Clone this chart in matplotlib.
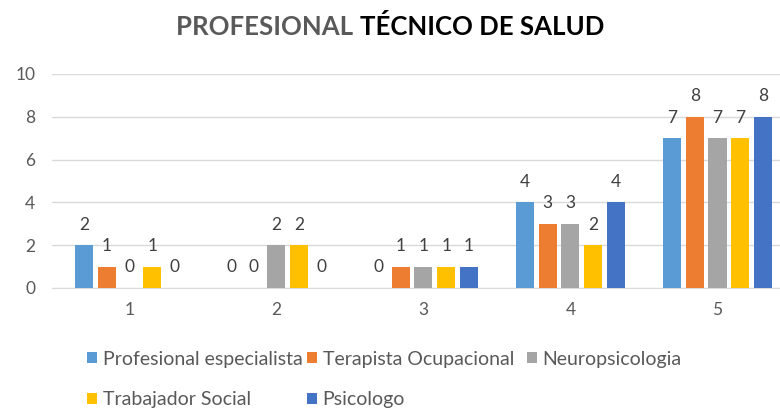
import matplotlib
matplotlib.use("Agg")
import matplotlib.pyplot as plt
import numpy as np
from matplotlib.patches import Patch

categories = ["1", "2", "3", "4", "5"]
series_names = ["Profesional especialista", "Terapista Ocupacional", "Neuropsicologia",
                "Trabajador Social", "Psicologo"]
prof_especialista = [2, 0, 0, 4, 7]
terapista = [1, 0, 1, 3, 8]
neuropsicologia = [0, 2, 1, 3, 7]
trabajador = [1, 2, 1, 2, 7]
psicologo = [0, 0, 1, 4, 8]
series = [prof_especialista, terapista, neuropsicologia, trabajador, psicologo]
colors = ["#5B9BD5", "#ED7D31", "#A5A5A5", "#FFC000", "#4472C4"]
yticks = [0, 2, 4, 6, 8, 10]

plt.rcParams['font.family'] = ['Lato', 'DejaVu Sans']

W_PX, H_PX = 780, 408
fig = plt.figure(figsize=(7.8, 4.08), dpi=100)
# plot area (pixel geometry of the original); it runs past the right edge, as the original is cropped
left_px, right_px, top_px, bottom_px = 52, 791, 74, 288
ax = fig.add_axes([left_px / W_PX, 1 - bottom_px / H_PX,
                   (right_px - left_px) / W_PX, (bottom_px - top_px) / H_PX])

x = np.arange(len(categories))
slot = 0.1545
bw = 0.1225
for i, (vals, c) in enumerate(zip(series, colors)):
    pos = x + (i - 2) * slot
    bars = ax.bar(pos, vals, width=bw, color=c, zorder=3)
    for b, v in zip(bars, vals):
        ax.annotate(str(v), (b.get_x() + b.get_width() / 2, v), xytext=(0, 9),
                    textcoords="offset points", ha="center", va="bottom",
                    fontsize=12.5, color="#404040")

ax.set_xlim(-0.527, 4.5)
ax.set_ylim(0, 10)
ax.set_yticks(yticks)
ax.set_xticks(x)
ax.set_xticklabels(categories)
ax.yaxis.grid(True, color="#D9D9D9", linewidth=1, zorder=0)
for s in ["top", "right", "left"]:
    ax.spines[s].set_visible(False)
ax.spines["bottom"].set_color("#D9D9D9")
ax.tick_params(axis="both", length=0, labelsize=12.5, colors="#595959")
ax.tick_params(axis="y", pad=12)
ax.tick_params(axis="x", pad=10)

# title in two parts
fs_title = 18.5
ty = 1 - 35 / H_PX
t1 = fig.text(0.5, ty, "PROFESIONAL ", fontsize=fs_title, fontweight="bold",
              color="#595959", ha="left", va="baseline")
t2 = fig.text(0.5, ty, "TÉCNICO DE SALUD", fontsize=fs_title, fontweight="bold",
              color="#000000", ha="left", va="baseline")
fig.canvas.draw()
r = fig.canvas.get_renderer()
w1 = t1.get_window_extent(r).width
w2 = t2.get_window_extent(r).width
W = fig.bbox.width
start = (W - (w1 + w2)) / 2
t1.set_x(start / W)
t2.set_x((start + w1) / W)

# legend entries in a 3-column grid like the original
legend_pos = [(87, 359), (307, 359), (527, 359), (87, 400), (307, 400)]
for name, c, (px, py) in zip(series_names, colors, legend_pos):
    leg = fig.legend([Patch(facecolor=c)], [name], loc="center left",
                     bbox_to_anchor=(px / W_PX, 1 - py / H_PX), frameon=False,
                     fontsize=14, handlelength=0.52, handleheight=0.52,
                     handletextpad=0.28, borderpad=0, borderaxespad=0)
    for t in leg.get_texts():
        t.set_color("#595959")

fig.savefig("out.png", dpi=100)
